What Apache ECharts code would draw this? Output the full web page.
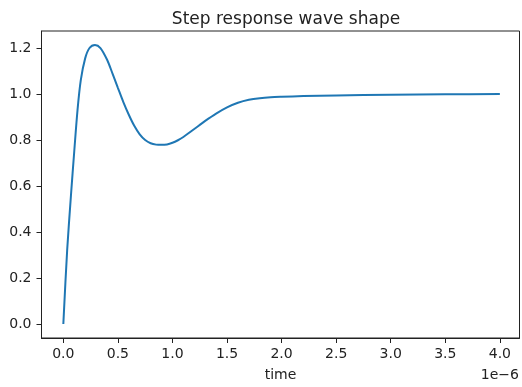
<!DOCTYPE html>
<html>
<head>
<meta charset="utf-8">
<script src="https://cdn.jsdelivr.net/npm/echarts@6/dist/echarts.min.js"></script>
<style>
  html, body { margin: 0; padding: 0; background: #fff; }
  #chart { width: 522px; height: 387px; }
</style>
</head>
<body>
<div id="chart"></div>
<script>
// time in units of 1e-6 s
const times = [0, 0.035, 0.07, 0.10, 0.13, 0.16, 0.20, 0.24, 0.29, 0.34, 0.40, 0.45, 0.50,
  0.55, 0.60, 0.65, 0.70, 0.75, 0.80, 0.85, 0.90, 0.95, 1.00, 1.05, 1.10, 1.20, 1.30, 1.40,
  1.50, 1.60, 1.70, 1.80, 1.90, 2.0, 2.2, 2.5, 3.0, 3.5, 4.0];
const response = [0, 0.32, 0.56, 0.75, 0.93, 1.06, 1.155, 1.20, 1.213, 1.20, 1.15, 1.09, 1.027,
  0.965, 0.91, 0.862, 0.825, 0.80, 0.786, 0.78, 0.779, 0.781, 0.788, 0.799, 0.813, 0.848, 0.883, 0.915,
  0.942, 0.962, 0.975, 0.982, 0.986, 0.988, 0.991, 0.994, 0.997, 0.999, 1.0];
const xTicks = [0, 0.5, 1.0, 1.5, 2.0, 2.5, 3.0, 3.5, 4.0];
const yTicks = [0, 0.2, 0.4, 0.6, 0.8, 1.0, 1.2];

const font = "DejaVu Sans";
const chart = echarts.init(document.getElementById("chart"));

const option = {
  animation: false,
  title: {
    text: "Step response wave shape",
    left: 281, top: 6, textAlign: "center",
    textStyle: { fontFamily: font, fontSize: 17, fontWeight: "normal", color: "#222" }
  },
  grid: { left: 41.5, right: 2.5, top: 31, bottom: 45, show: true, borderColor: "#222", borderWidth: 1 },
  xAxis: {
    type: "value", min: -0.2, max: 4.18,
    name: "time", nameLocation: "middle", nameGap: 30,
    nameTextStyle: { fontFamily: font, fontSize: 14, color: "#222" },
    axisLine: { show: true, onZero: false, lineStyle: { color: "#222", width: 1 } },
    axisTick: { show: true, length: 5, customValues: xTicks, lineStyle: { color: "#222" } },
    axisLabel: {
      customValues: xTicks, margin: 9, fontFamily: font, fontSize: 14, color: "#222",
      formatter: (v) => v.toFixed(1)
    },
    splitLine: { show: false }
  },
  yAxis: {
    type: "value", min: -0.0607, max: 1.274,
    axisLine: { show: true, onZero: false, lineStyle: { color: "#222", width: 1 } },
    axisTick: { show: true, length: 5, customValues: yTicks, lineStyle: { color: "#222" } },
    axisLabel: {
      customValues: yTicks, margin: 10, fontFamily: font, fontSize: 14, color: "#222",
      formatter: (v) => v.toFixed(1)
    },
    splitLine: { show: false }
  },
  graphic: [{
    type: "text", right: 3, top: 368,
    style: { text: "1e\u22126", font: "14px 'DejaVu Sans'", fill: "#222" }
  }],
  series: [{
    type: "line",
    data: times.map((t, i) => [t, response[i]]),
    showSymbol: false,
    smooth: 0.3,
    lineStyle: { color: "#1f77b4", width: 2 }
  }]
};

chart.setOption(option);
</script>
</body>
</html>
